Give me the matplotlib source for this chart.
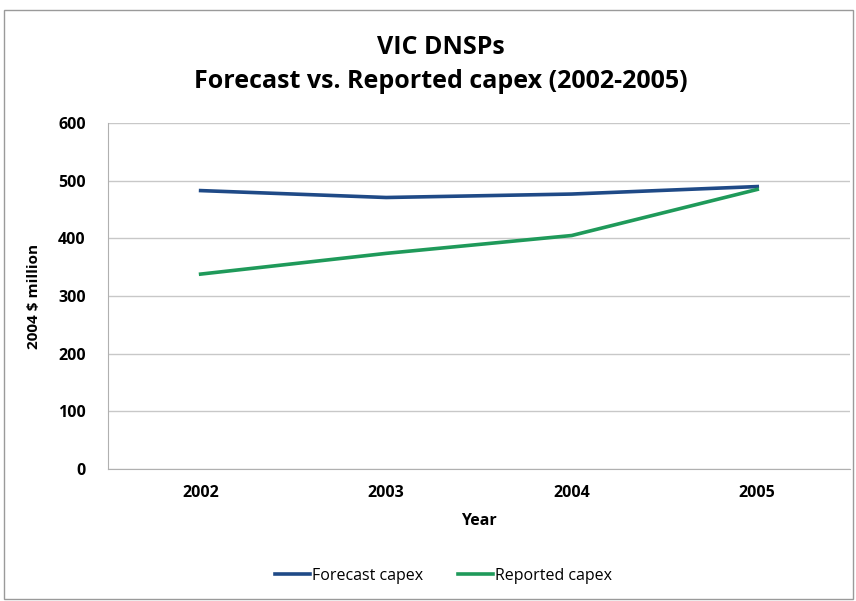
import matplotlib.pyplot as plt

years = ["2002", "2003", "2004", "2005"]
forecast = [483, 471, 477, 490]
reported = [338, 374, 405, 485]

plt.rcParams['font.family'] = ['Open Sans', 'DejaVu Sans']

fig = plt.figure(figsize=(8.56, 6.01), dpi=100)
ax = fig.add_axes([0.126, 0.22, 0.867, 0.575])

x = range(len(years))
ax.plot(x, forecast, color="#1f4a87", lw=2.6, label="Forecast capex")
ax.plot(x, reported, color="#1f9a5a", lw=2.6, label="Reported capex")

ax.set_xlim(-0.5, 3.5)
ax.set_ylim(0, 600)
ax.set_yticks(range(0, 601, 100))
ax.set_xticks(list(x))
ax.set_xticklabels(years)
ax.tick_params(length=0, labelsize=11.5, pad=12)
for lab in ax.get_xticklabels() + ax.get_yticklabels():
    lab.set_fontweight("bold")
ax.tick_params(axis="y", pad=16)

ax.grid(axis="y", color="#c8c8c8", lw=1)
ax.set_axisbelow(True)
for s in ["top", "right"]:
    ax.spines[s].set_visible(False)
ax.spines["left"].set_color("#b0b0b0")
ax.spines["bottom"].set_color("#b0b0b0")

ax.set_xlabel("Year", fontweight="bold", fontsize=11.5, labelpad=8)
ax.set_ylabel("2004 $ million", fontweight="bold", fontsize=11, labelpad=12)

fig.text(0.515, 0.893, "VIC DNSPs\nForecast vs. Reported capex (2002-2005)",
         ha="center", va="center", fontsize=18, fontweight="bold", linespacing=1.5)

fig.legend(loc="center", bbox_to_anchor=(0.518, 0.042), ncol=2, frameon=False,
           fontsize=11.5, handlelength=2.2, handletextpad=0.1, columnspacing=2.2)

border = plt.Rectangle((0.005, 0.003), 0.992, 0.98, transform=fig.transFigure,
                       fill=False, edgecolor="#9a9a9a", lw=1)
fig.patches.append(border)

fig.savefig("out.png", dpi=100)
